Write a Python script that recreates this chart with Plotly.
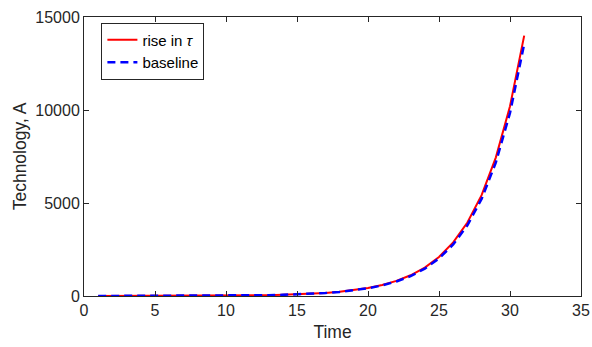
import plotly.graph_objects as go

time = list(range(1, 32))
rise_tau = [1.0, 1.4, 2.0, 2.7, 3.7, 5.1, 7.0, 9.6, 13, 18, 25, 34, 47, 65, 89,
            122, 167, 230, 315, 432, 593, 813, 1115, 1530, 2100, 2880, 3950,
            5420, 7440, 10200, 14000]
baseline = [1.0, 1.4, 1.9, 2.6, 3.6, 5.0, 6.8, 9.3, 12.7, 17.5, 24, 33, 45, 62, 86,
            118, 161, 221, 303, 416, 570, 782, 1072, 1470, 2020, 2770, 3800,
            5220, 7170, 9840, 13550]

xticks = [0, 5, 10, 15, 20, 25, 30, 35]
yticks = [0, 5000, 10000, 15000]
yticklabels = ["0", "5000", "10000", "15000"]

axcol = "#262626"
fam = "Liberation Sans, Arial, sans-serif"
font = dict(family=fam, size=16, color=axcol)

fig = go.Figure()
fig.add_trace(go.Scatter(x=time, y=rise_tau, mode="lines", name="rise in <i>τ</i>",
                         line=dict(color="#ff0000", width=2)))
fig.add_trace(go.Scatter(x=time, y=baseline, mode="lines", name="baseline",
                         line=dict(color="#0000ff", width=2.5, dash="8px,5px")))

axis_common = dict(showline=True, linecolor=axcol, linewidth=1, mirror="allticks",
                   ticks="inside", ticklen=5, tickcolor=axcol, tickwidth=1,
                   showgrid=False, zeroline=False, tickfont=font, automargin=False)

fig.update_xaxes(range=[0, 35], tickvals=xticks, **axis_common,
                 title=dict(text="Time", font=dict(family=fam, size=17.5, color=axcol), standoff=7))
fig.update_yaxes(range=[0, 15000], tickvals=yticks, ticktext=yticklabels, **axis_common,
                 title=dict(text="Technology, A", font=dict(family=fam, size=17.5, color=axcol), standoff=4))

fig.update_layout(
    width=592, height=347,
    margin=dict(l=84, r=11, t=17, b=51),
    paper_bgcolor="white", plot_bgcolor="white",
    showlegend=True,
    legend=dict(x=0.035, y=0.98, xanchor="left", yanchor="top",
                bgcolor="white", bordercolor=axcol, borderwidth=1,
                font=dict(family=fam, size=15, color="black"),
                itemwidth=30, tracegroupgap=0),
)

fig.write_html("out.html")
